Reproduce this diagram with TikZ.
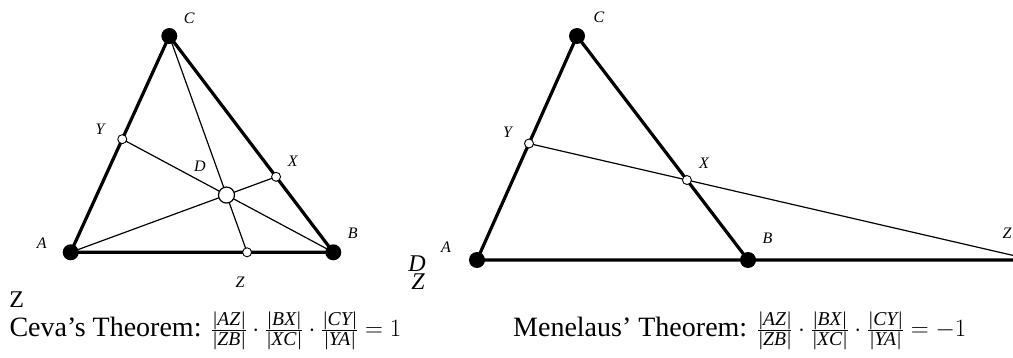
\documentclass[tikz,border=0pt]{standalone}
\usepackage{amsmath}
\usepackage[no-math]{fontspec}
\setmainfont{Liberation Serif}
\usetikzlibrary{calc}

\begin{document}
\begin{tikzpicture}[x=1pt, y=-1pt, every node/.style={font=\fontsize{16}{18}\selectfont\itshape}]
\tikzset{edge/.style={line width=3.2pt, line join=round, line cap=round}}
\tikzset{cevian/.style={line width=1.2pt}}
\tikzset{bigdot/.style={circle, fill=black, inner sep=0pt, minimum size=16pt}}
\tikzset{opendot/.style={circle, draw, fill=white, line width=0.9pt, inner sep=0pt, minimum size=9pt}}
\tikzset{bigopen/.style={opendot, minimum size=16pt, line width=1.2pt}}
\tikzset{stray/.style={font=\fontsize{24}{26}\selectfont\itshape}}
\tikzset{caption/.style={font=\fontsize{28}{31}\selectfont\upshape, anchor=base west, inner sep=0pt}}
\useasboundingbox (0,0) rectangle (1013,358);
% Ceva
\coordinate (cA) at (70.7,252.3);
\coordinate (cB) at (333.3,252.3);
\coordinate (cC) at (169.3,36);
\coordinate (cX) at ($(cB)!0.349!(cC)$);
\coordinate (cY) at ($(cC)!0.477!(cA)$);
\coordinate (cD) at (intersection of cA--cX and cB--cY);
\coordinate (cZ) at (intersection of cC--cD and cA--cB);
\draw[cevian] (cA) -- (cX);
\draw[cevian] (cB) -- (cY);
\draw[cevian] (cC) -- (cZ);
\draw[edge] (cA) -- (cB) -- (cC) -- cycle;
\node[bigdot] (ca) at (cA) {};
\node[bigdot] (cb) at (cB) {};
\node[bigdot] (cc) at (cC) {};
\node[opendot] (cx) at (cX) {};
\node[opendot] (cy) at (cY) {};
\node[opendot] (cz) at (cZ) {};
\node[bigopen] (cd) at (cD) {};
\node (lca) at (41.7,243) {A};
\node (lcb) at (352.7,233.3) {B};
\node (lcc) at (189.3,18.3) {C};
\node (lcd) at (200,166.7) {D};
\node (lcx) at (292.7,161.7) {X};
\node (lcy) at (100,129.3) {Y};
\node (lcz) at (240,282.7) {Z};
\node[stray, font=\fontsize{24}{26}\selectfont\upshape] (zc) at (16.7,300) {Z};
\node[caption] (ceva) at (9.3,337) {Ceva's Theorem: $\frac{\textit{|AZ|}}{\textit{|ZB|}}\cdot\frac{\textit{|BX|}}{\textit{|XC|}}\cdot\frac{\textit{|CY|}}{\textit{|YA|}} = 1$};
% Menelaus
\coordinate (mA) at (477,260);
\coordinate (mB) at (748,260);
\coordinate (mC) at (577,36);
\coordinate (mX) at ($(mB)!0.357!(mC)$);
\coordinate (mY) at ($(mC)!0.48!(mA)$);
\coordinate (mZ) at (intersection of mY--mX and mA--mB);
\draw[cevian] (mY) -- (mZ);
\draw[edge] (mA) -- (mZ);
\draw[edge] (mB) -- (mC) -- (mA);
\node[bigdot] (ma) at (mA) {};
\node[bigdot] (mb) at (mB) {};
\node[bigdot] (mc) at (mC) {};
\node[opendot] (mx) at (mX) {};
\node[opendot] (my) at (mY) {};
\node[opendot] (mz) at (mZ) {};
\node (lma) at (446,247) {A};
\node (lmb) at (767.5,238) {B};
\node (lmc) at (599,17) {C};
\node (lmx) at (704,163) {X};
\node (lmy) at (507.5,132) {Y};
\node (lmz) at (1007,233) {Z};
\node[stray] (dm) at (417,264) {D};
\node[stray] (zm) at (418,282) {Z};
\node[caption] (menelaus) at (513,337) {Menelaus' Theorem: $\frac{\textit{|AZ|}}{\textit{|ZB|}}\cdot\frac{\textit{|BX|}}{\textit{|XC|}}\cdot\frac{\textit{|CY|}}{\textit{|YA|}} = -1$};
\end{tikzpicture}
\end{document}
